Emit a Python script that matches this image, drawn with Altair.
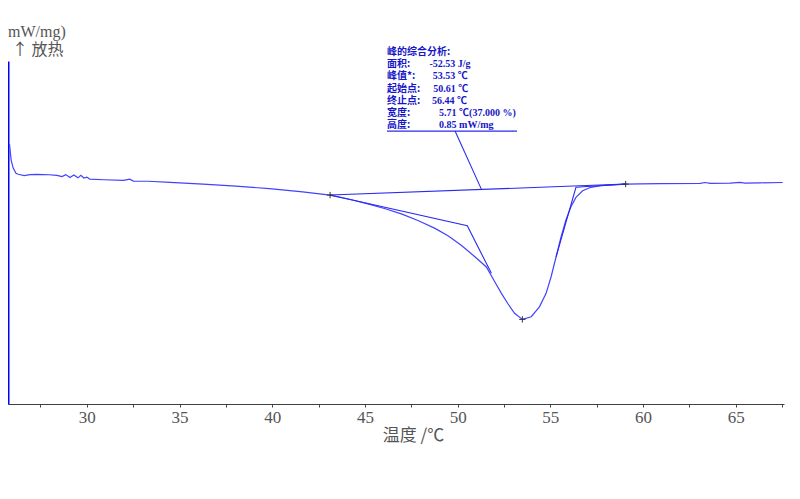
import altair as alt
import pandas as pd

# ---- DSC curve: temperature (°C) and heat flow (mW/mg) ----
temp = [25.83, 25.92, 26.03, 26.18, 26.30, 26.62, 26.94, 27.32, 27.96, 28.39,
        28.66, 28.87, 29.09, 29.30, 29.52, 29.68, 29.84, 30.00, 30.16, 30.91,
        31.98, 32.31, 32.52, 33.32, 34.49, 36.27, 38.04, 39.85, 41.64, 43.12,
        44.32, 45.21, 46.10, 47.00, 47.89, 48.78, 49.50, 50.21, 50.93, 51.55,
        52.00, 52.36, 52.72, 53.07, 53.49, 53.97, 54.41, 54.77, 55.04, 55.31,
        55.58, 55.84, 56.11, 56.38, 56.74, 57.18, 57.72, 58.43, 59.06, 59.87,
        60.94, 63.08, 63.35, 63.62, 64.69, 65.23, 65.50, 66.30, 67.53]
heat = [0.258, 0.155, 0.103, 0.069, 0.063, 0.054, 0.061, 0.063, 0.060, 0.056,
        0.048, 0.061, 0.042, 0.058, 0.040, 0.056, 0.039, 0.045, 0.032, 0.028,
        0.024, 0.032, 0.019, 0.018, 0.011, 0.000, -0.013, -0.030, -0.050, -0.071,
        -0.103, -0.129, -0.159, -0.194, -0.237, -0.286, -0.335, -0.396, -0.469, -0.535,
        -0.630, -0.705, -0.774, -0.834, -0.873, -0.856, -0.792, -0.705, -0.598, -0.469,
        -0.340, -0.232, -0.146, -0.086, -0.043, -0.021, -0.011, -0.005, 0.000, 0.001,
        0.003, 0.005, 0.010, 0.004, 0.006, 0.011, 0.006, 0.008, 0.010]

# ---- peak-evaluation construction lines ----
base_temp = [43.12, 59.06]
base_heat = [-0.071, 0.000]
onset_temp = [43.12, 50.52, 51.82]
onset_heat = [-0.071, -0.269, -0.576]
endset_temp = [59.06, 56.38, 55.31]
endset_heat = [0.000, -0.021, -0.469]
leader_temp = [49.86, 51.29]
leader_heat = [0.342, -0.036]
underline_temp = [46.19, 53.20]
underline_heat = [0.342, 0.342]
marker_temp = [43.12, 53.49, 59.06]
marker_heat = [-0.071, -0.873, 0.000]

# ---- annotation box ----
ann_labels = ["峰的综合分析:", "面积:", "峰值*:", "起始点:", "终止点:", "宽度:", "高度:"]
ann_values = ["", "-52.53 J/g", "53.53 ℃", "50.61 ℃", "56.44 ℃", "5.71 ℃(37.000 %)", "0.85 mW/mg"]
ann_label_temp = [46.19] * 7
ann_value_temp = [48.48, 48.48, 48.66, 48.69, 48.61, 49.00, 49.00]
ann_heat = [0.852, 0.774, 0.697, 0.616, 0.539, 0.461, 0.384]

x_ticks = [27.5, 30, 32.5, 35, 37.5, 40, 42.5, 45, 47.5, 50, 52.5, 55, 57.5, 60, 62.5, 65, 67.5]
x_title = "温度 /℃"
y_unit = "mW/mg)"
y_dir = "↑ 放热"

BLUE_CURVE = "#4242ff"
BLUE_LINE = "#2a2af0"
TEXT_BLUE = "#1616c8"
GRAY = "#555555"
CJK = "Noto Sans CJK SC"
SERIF = "Liberation Serif, Noto Sans CJK SC"

x_scale = alt.Scale(domain=[25.75, 67.6], nice=False, zero=False)
y_scale = alt.Scale(domain=[-1.419, 0.794], nice=False, zero=False)


def line_df(t, h):
    return pd.DataFrame({"T": t, "H": h, "i": list(range(len(t)))})


x_axis = alt.Axis(
    values=x_ticks,
    labelExpr="datum.value % 5 == 0 ? format(datum.value, 'd') : ''",
    title=x_title, titleX=405, titleY=31, titleAlign="center", titleBaseline="middle",
    titleFont=CJK, titleFontSize=17, titleFontWeight="normal", titleColor=GRAY,
    labelFont=SERIF, labelFontSize=17, labelColor=GRAY, labelPadding=2,
    labelOverlap=False, labelFlush=False,
    tickSize=3, tickColor="#444444", domainColor="#404040", domainWidth=1, grid=False,
)
y_axis = alt.Axis(title=None, labels=False, ticks=False, grid=False,
                  domainColor="#0000ff", domainWidth=2)

curve = alt.Chart(line_df(temp, heat)).mark_line(color=BLUE_CURVE, strokeWidth=1.2).encode(
    x=alt.X("T:Q", scale=x_scale, axis=x_axis),
    y=alt.Y("H:Q", scale=y_scale, axis=y_axis),
    order="i:Q",
)


def seg(t, h, color=BLUE_LINE, width=1.1):
    return alt.Chart(line_df(t, h)).mark_line(color=color, strokeWidth=width).encode(
        x=alt.X("T:Q", scale=x_scale),
        y=alt.Y("H:Q", scale=y_scale),
        order="i:Q",
    )


baseline = seg(base_temp, base_heat)
onset = seg(onset_temp, onset_heat)
endset = seg(endset_temp, endset_heat)
leader = seg(leader_temp, leader_heat)
underline = seg(underline_temp, underline_heat, width=1.3)

markers = alt.Chart(pd.DataFrame({"T": marker_temp, "H": marker_heat})).mark_point(
    shape="M-1,0L1,0M0,-1L0,1", size=40, filled=False, color="#333333", strokeWidth=1, opacity=1
).encode(x=alt.X("T:Q", scale=x_scale), y=alt.Y("H:Q", scale=y_scale))

ann_df = pd.DataFrame({"lab": ann_labels, "val": ann_values, "Tl": ann_label_temp,
                       "Tv": ann_value_temp, "H": ann_heat})
ann_lab = alt.Chart(ann_df).mark_text(
    align="left", baseline="middle", font=CJK, fontSize=10, fontWeight="bold", color=TEXT_BLUE
).encode(x=alt.X("Tl:Q", scale=x_scale), y=alt.Y("H:Q", scale=y_scale), text="lab:N")
ann_val = alt.Chart(ann_df).mark_text(
    align="left", baseline="middle", font=SERIF, fontSize=10, fontWeight="bold", color=TEXT_BLUE
).encode(x=alt.X("Tv:Q", scale=x_scale), y=alt.Y("H:Q", scale=y_scale), text="val:N")

unit_text = alt.Chart(pd.DataFrame({"t": [y_unit]})).mark_text(
    align="left", baseline="middle", font=SERIF, fontSize=16, color=GRAY
).encode(x=alt.value(0), y=alt.value(-29), text="t:N")
dir_text = alt.Chart(pd.DataFrame({"t": [y_dir]})).mark_text(
    align="left", baseline="middle", font=CJK, fontSize=16, color=GRAY
).encode(x=alt.value(4), y=alt.value(-11), text="t:N")

chart = alt.layer(
    curve, baseline, onset, endset, leader, underline, markers, ann_lab, ann_val, unit_text, dir_text
).properties(
    width=776, height=343,
    autosize=alt.AutoSizeParams(type="none"),
    padding={"left": 0, "top": 53, "right": 8, "bottom": 70},
).configure_view(stroke=None)

chart.save("out.html", embed_options={"renderer": "svg", "actions": False})
